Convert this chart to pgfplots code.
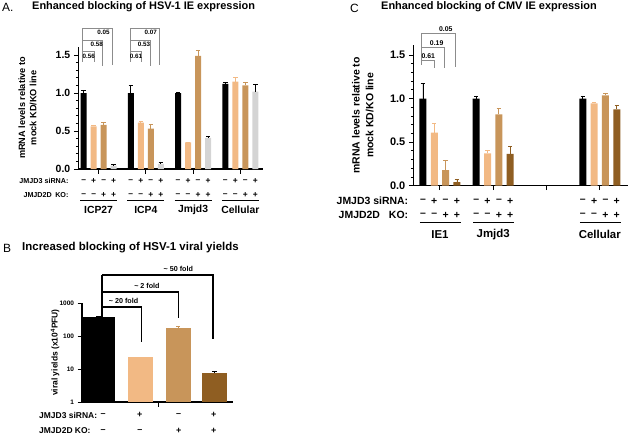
\documentclass[border=0pt]{standalone}
\usepackage{pgfplots}
\pgfplotsset{compat=1.18}
\usepackage{fontspec}
\setmainfont{Liberation Sans}

\definecolor{cLight}{HTML}{F2B984}
\definecolor{cMid}{HTML}{C8955A}
\definecolor{cDark}{HTML}{8F5E22}
\definecolor{cGrey}{HTML}{D4D4D4}
\definecolor{cBrk}{HTML}{8C8C8C}

\newcommand{\fs}[1]{\fontsize{#1}{#1}\selectfont}

\pgfplotsset{
  panel/.style={scale only axis, axis lines=left, axis line style={-, line width=1.1bp},
    tick align=outside, clip=false, major tick length=4.5bp, minor tick length=2.5bp,
    every tick/.style={line width=0.9bp, black},
    /pgf/number format/assume math mode=true, xminorticks=false},
  bardata/.style n args={3}{ybar, bar shift=0pt, bar width=#3, draw=none, fill=#1,
    error bars/y dir=plus, error bars/y explicit,
    error bars/error bar style={line width=0.8bp, draw=#2},
    error bars/error mark options={rotate=90, line width=0.8bp, draw=#2, mark size=2.2bp}},
}
\tikzset{sgn/.style={font=\bfseries\fs{#1}, inner sep=0pt}}

\begin{document}
\begin{tikzpicture}
\path[use as bounding box] (0,0) rectangle (631bp,-438bp);

% ---------------- panel A ----------------
\begin{axis}[panel, at={(78.3bp,-169bp)}, anchor=south west,
  width=184.7bp, height=122.3bp,
  xmin=-0.43, xmax=3.48, ymin=0, ymax=1.61,
  xtick={0,1,2,3}, xticklabels={},
  ytick={0,0.5,1,1.5}, minor y tick num=4,
  yticklabel style={font=\bfseries\fs{10.5}, /pgf/number format/fixed,
    /pgf/number format/zerofill, /pgf/number format/precision=1},
  ylabel={mRNA levels relative to\\mock KD/KO line},
  ylabel style={at={([xshift=-50.8bp]rel axis cs:0,0.5)}, anchor=center, align=center,
    font=\bfseries\fontsize{9.2}{11.5}\selectfont},
]
\addplot[bardata={black}{black}{6bp}] coordinates {
  (-0.318,1.00) +- (0,0.03) (0.682,1.00) +- (0,0.10)
  (1.682,1.00) +- (0,0.01) (2.682,1.12) +- (0,0.02)};
\addplot[bardata={cLight}{cLight}{6bp}] coordinates {
  (-0.106,0.56) +- (0,0.02) (0.894,0.61) +- (0,0.02)
  (1.894,0.35) +- (0,0) (2.894,1.15) +- (0,0.06)};
\addplot[bardata={cMid}{cMid}{6bp}] coordinates {
  (0.106,0.58) +- (0,0.035) (1.106,0.53) +- (0,0.06)
  (2.106,1.49) +- (0,0.066) (3.106,1.10) +- (0,0.035)};
\addplot[bardata={cGrey}{black}{6bp}] coordinates {
  (0.318,0.045) +- (0,0.02) (1.318,0.066) +- (0,0.015)
  (2.318,0.41) +- (0,0.02) (3.318,1.02) +- (0,0.10)};

% significance brackets
\draw[cBrk, line width=0.6bp] (axis cs:-0.336,1.41) -- (axis cs:-0.336,1.851);
\draw[cBrk, line width=0.6bp] (axis cs:-0.336,1.543) -- (axis cs:-0.10,1.543) -- (axis cs:-0.10,1.41);
\draw[cBrk, line width=0.6bp] (axis cs:-0.336,1.697) -- (axis cs:0.085,1.697) -- (axis cs:0.085,1.35);
\draw[cBrk, line width=0.6bp] (axis cs:-0.336,1.851) -- (axis cs:0.28,1.851) -- (axis cs:0.28,1.37);
\node[sgn=6.3] at (axis cs:-0.21,1.478) {0.56};
\node[sgn=6.3] at (axis cs:-0.04,1.64) {0.58};
\node[sgn=6.3] at (axis cs:0.105,1.80) {0.05};
\draw[cBrk, line width=0.6bp] (axis cs:0.664,1.41) -- (axis cs:0.664,1.851);
\draw[cBrk, line width=0.6bp] (axis cs:0.664,1.543) -- (axis cs:0.90,1.543) -- (axis cs:0.90,1.41);
\draw[cBrk, line width=0.6bp] (axis cs:0.664,1.697) -- (axis cs:1.085,1.697) -- (axis cs:1.085,1.35);
\draw[cBrk, line width=0.6bp] (axis cs:0.664,1.851) -- (axis cs:1.28,1.851) -- (axis cs:1.28,1.37);
\node[sgn=6.3] at (axis cs:0.79,1.478) {0.61};
\node[sgn=6.3] at (axis cs:0.96,1.64) {0.53};
\node[sgn=6.3] at (axis cs:1.105,1.80) {0.07};

% condition rows
\node[anchor=east, font=\bfseries\fs{7.2}] at ([xshift=-6.3bp, yshift=-11.7bp]rel axis cs:0,0) {JMJD3 siRNA:};
\node[anchor=east, font=\bfseries\fs{7.2}] at ([xshift=-6.3bp, yshift=-25.7bp]rel axis cs:0,0) {JMJD2D\hspace{3.5bp}KO:};
\pgfplotsinvokeforeach{0,1,2,3}{
  \node[sgn=8.5] at ([xshift=-15bp, yshift=-11.7bp]axis cs:#1,0) {–};
  \node[sgn=8.5] at ([xshift=-5bp, yshift=-11.7bp]axis cs:#1,0) {+};
  \node[sgn=8.5] at ([xshift=5bp, yshift=-11.7bp]axis cs:#1,0) {–};
  \node[sgn=8.5] at ([xshift=15bp, yshift=-11.7bp]axis cs:#1,0) {+};
  \node[sgn=8.5] at ([xshift=-15bp, yshift=-25.7bp]axis cs:#1,0) {–};
  \node[sgn=8.5] at ([xshift=-5bp, yshift=-25.7bp]axis cs:#1,0) {–};
  \node[sgn=8.5] at ([xshift=5bp, yshift=-25.7bp]axis cs:#1,0) {+};
  \node[sgn=8.5] at ([xshift=15bp, yshift=-25.7bp]axis cs:#1,0) {+};
  \draw[line width=0.8bp] ([xshift=-18.5bp, yshift=-31.7bp]axis cs:#1,0) -- ([xshift=18.5bp, yshift=-31.7bp]axis cs:#1,0);
}
\node[font=\bfseries\fs{10.4}] at ([yshift=-40.7bp]axis cs:0,0) {ICP27};
\node[font=\bfseries\fs{10.4}] at ([yshift=-40.7bp]axis cs:1,0) {ICP4};
\node[font=\bfseries\fs{10.4}] at ([yshift=-40.7bp]axis cs:2,0) {Jmjd3};
\node[font=\bfseries\fs{10.4}] at ([yshift=-40.7bp]axis cs:3,0) {Cellular};
\end{axis}

% ---------------- panel B ----------------
\begin{axis}[panel, at={(82bp,-402bp)}, anchor=south west,
  width=151bp, height=99bp,
  ymode=log, ymin=1, ymax=1000, xmin=-0.53, xmax=3.47,
  xtick={1.5}, xticklabels={},
  ytick={1,10,100,1000}, yticklabels={1,10,100,1000}, yminorticks=false,
  yticklabel style={font=\bfseries\fs{6.5}},
  ylabel={viral yields (x10\textsuperscript{4}PFU)},
  ylabel style={at={([xshift=-27bp]rel axis cs:0,0.5)}, anchor=center,
    font=\bfseries\fs{8.5}},
]
\addplot[bardata={black}{black}{32bp}] coordinates {(-0.09,370) +- (0,12)};
\addplot[bardata={cLight}{cLight}{25bp}] coordinates {(1.02,22.5) +- (0,0.5)};
\addplot[bardata={cMid}{cMid}{25bp}] coordinates {(2.02,172) +- (0,18)};
\addplot[bardata={cDark}{black}{25bp}] coordinates {(2.98,7.7) +- (0,0.5)};

\draw[line width=1.4bp] (axis cs:0,369) -- (axis cs:0,7047);
\draw[line width=1.4bp] (axis cs:0,757) -- (axis cs:1.05,757) -- (axis cs:1.05,66);
\draw[line width=1.4bp] (axis cs:0,2153) -- (axis cs:2.02,2153) -- (axis cs:2.02,351);
\draw[line width=1.4bp] (axis cs:0,7047) -- (axis cs:2.94,7047) -- (axis cs:2.94,81);
\node[sgn=7.2] at (axis cs:0.57,1148) {\textasciitilde{} 20 fold};
\node[sgn=7.2] at (axis cs:1.19,3273) {\textasciitilde{} 2 fold};
\node[sgn=7.2] at (axis cs:2.02,10715) {\textasciitilde{} 50 fold};

\node[anchor=west, font=\bfseries\fs{8.5}] at ([xshift=-46.3bp, yshift=-13bp]rel axis cs:0,0) {JMJD3 siRNA:};
\node[anchor=west, font=\bfseries\fs{8.5}] at ([xshift=-46.3bp, yshift=-29bp]rel axis cs:0,0) {JMJD2D KO:};
\node[sgn=9] at ([yshift=-13bp]axis cs:0.03,1) {–};
\node[sgn=9] at ([yshift=-13bp]axis cs:1.0,1) {+};
\node[sgn=9] at ([yshift=-13bp]axis cs:2.03,1) {–};
\node[sgn=9] at ([yshift=-13bp]axis cs:2.96,1) {+};
\node[sgn=9] at ([yshift=-29bp]axis cs:0.03,1) {–};
\node[sgn=9] at ([yshift=-29bp]axis cs:1.0,1) {–};
\node[sgn=9] at ([yshift=-29bp]axis cs:2.03,1) {+};
\node[sgn=9] at ([yshift=-29bp]axis cs:2.96,1) {+};
\end{axis}

% ---------------- panel C ----------------
\begin{axis}[panel, at={(413.3bp,-185.7bp)}, anchor=south west,
  width=214.7bp, height=140.7bp,
  xmin=-0.5, xmax=3.53, ymin=0, ymax=1.615,
  xtick={0,1,2,3}, xticklabels={},
  ytick={0,0.5,1,1.5}, minor y tick num=4,
  yticklabel style={font=\bfseries\fs{11}, /pgf/number format/fixed,
    /pgf/number format/zerofill, /pgf/number format/precision=1},
  ylabel={mRNA levels relative to\\mock KD/KO line},
  ylabel style={at={([xshift=-50.5bp]rel axis cs:0,0.5)}, anchor=center, align=center,
    font=\bfseries\fontsize{10.5}{14}\selectfont},
]
\addplot[bardata={black}{black}{7bp}] coordinates {
  (-0.319,1.00) +- (0,0.17) (0.681,1.00) +- (0,0.03) (2.681,1.00) +- (0,0.03)};
\addplot[bardata={cLight}{cLight}{7bp}] coordinates {
  (-0.106,0.61) +- (0,0.10) (0.894,0.37) +- (0,0.03) (2.894,0.946) +- (0,0.01)};
\addplot[bardata={cMid}{cMid}{7bp}] coordinates {
  (0.106,0.18) +- (0,0.105) (1.106,0.82) +- (0,0.068) (3.106,1.038) +- (0,0.018)};
\addplot[bardata={cDark}{cDark}{7bp}] coordinates {
  (0.319,0.042) +- (0,0.035) (1.319,0.364) +- (0,0.09) (3.319,0.877) +- (0,0.04)};

\draw[cBrk, line width=0.6bp] (axis cs:-0.343,1.386) -- (axis cs:-0.343,1.75);
\draw[cBrk, line width=0.6bp] (axis cs:-0.343,1.435) -- (axis cs:-0.113,1.435) -- (axis cs:-0.113,1.348);
\draw[cBrk, line width=0.6bp] (axis cs:-0.343,1.589) -- (axis cs:0.075,1.589) -- (axis cs:0.075,1.35);
\draw[cBrk, line width=0.6bp] (axis cs:-0.343,1.75) -- (axis cs:0.28,1.75) -- (axis cs:0.28,1.366);
\node[sgn=6.9] at (axis cs:-0.22,1.489) {0.61};
\node[sgn=6.9] at (axis cs:-0.062,1.642) {0.19};
\node[sgn=6.9] at (axis cs:0.109,1.796) {0.05};

\node[anchor=east, font=\bfseries\fs{10.5}] at ([xshift=-1.6bp, yshift=-15.5bp]rel axis cs:0,0) {JMJD3 siRNA:};
\node[anchor=east, font=\bfseries\fs{10.5}] at ([xshift=-1.6bp, yshift=-29.5bp]rel axis cs:0,0) {JMJD2D\hspace{9bp}KO:};
\pgfplotsinvokeforeach{0,1,3}{
  \node[sgn=10.5] at ([xshift=-17bp, yshift=-15.5bp]axis cs:#1,0) {–};
  \node[sgn=10.5] at ([xshift=-5.7bp, yshift=-15.5bp]axis cs:#1,0) {+};
  \node[sgn=10.5] at ([xshift=5.7bp, yshift=-15.5bp]axis cs:#1,0) {–};
  \node[sgn=10.5] at ([xshift=17bp, yshift=-15.5bp]axis cs:#1,0) {+};
  \node[sgn=10.5] at ([xshift=-17bp, yshift=-29.5bp]axis cs:#1,0) {–};
  \node[sgn=10.5] at ([xshift=-5.7bp, yshift=-29.5bp]axis cs:#1,0) {–};
  \node[sgn=10.5] at ([xshift=5.7bp, yshift=-29.5bp]axis cs:#1,0) {+};
  \node[sgn=10.5] at ([xshift=17bp, yshift=-29.5bp]axis cs:#1,0) {+};
  \draw[line width=0.8bp] ([xshift=-20bp, yshift=-37bp]axis cs:#1,0) -- ([xshift=21bp, yshift=-37bp]axis cs:#1,0);
}
\node[font=\bfseries\fs{11.5}] at ([yshift=-48.5bp]axis cs:0,0) {IE1};
\node[font=\bfseries\fs{11.5}] at ([yshift=-48.5bp]axis cs:1,0) {Jmjd3};
\node[font=\bfseries\fs{11.5}] at ([yshift=-48.5bp]axis cs:3,0) {Cellular};
\end{axis}

% panel letters and titles
\node[anchor=west, font=\fs{12}, inner sep=0pt] at (2bp,-7bp) {A.};
\node[anchor=west, font=\bfseries\fs{11}, inner sep=0pt] at (32bp,-7bp) {Enhanced blocking of HSV-1 IE expression};
\node[anchor=west, font=\fs{12}, inner sep=0pt] at (3bp,-248bp) {B};
\node[anchor=west, font=\bfseries\fs{11.5}, inner sep=0pt] at (22bp,-248bp) {Increased blocking of HSV-1 viral yields};
\node[anchor=west, font=\fs{12}, inner sep=0pt] at (350bp,-8bp) {C};
\node[anchor=west, font=\bfseries\fs{11}, inner sep=0pt] at (381bp,-7bp) {Enhanced blocking of CMV IE expression};
\end{tikzpicture}
\end{document}
